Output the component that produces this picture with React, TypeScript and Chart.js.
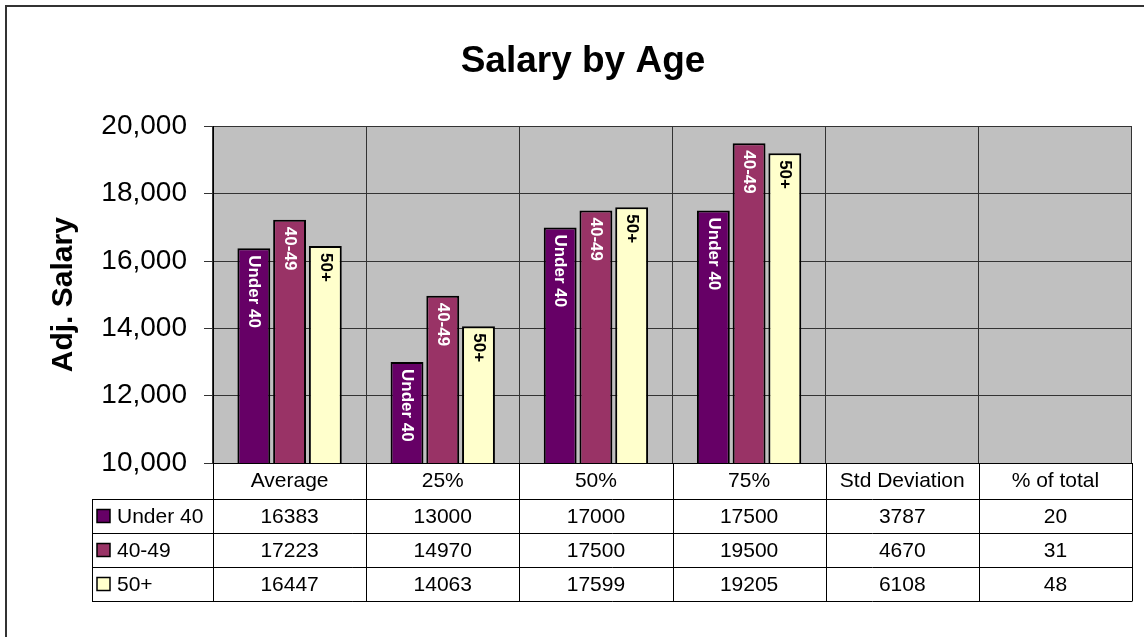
import { useEffect, useRef } from "react";
import { Chart, registerables } from "chart.js";

Chart.register(...registerables);

const categories = ["Average", "25%", "50%", "75%", "Std Deviation", "% of total"];
const seriesNames = ["Under 40", "40-49", "50+"];
const under40 = [16383, 13000, 17000, 17500, 3787, 20];
const age40to49 = [17223, 14970, 17500, 19500, 4670, 31];
const age50plus = [16447, 14063, 17599, 19205, 6108, 48];
const seriesValues = [under40, age40to49, age50plus];
const seriesColors = ["#660066", "#993366", "#FFFFCC"];
const labelColors = ["#FFFFFF", "#FFFFFF", "#000000"];
const yTickValues = [10000, 12000, 14000, 16000, 18000, 20000];

const FONT = "'Liberation Sans', Arial, sans-serif";
const Y_MIN = yTickValues[0];
const Y_MAX = yTickValues[yTickValues.length - 1];

const backgroundPlugin = {
  id: "bgPlot",
  beforeDraw(chart: any) {
    const { ctx, chartArea } = chart;
    ctx.save();
    ctx.fillStyle = "#C0C0C0";
    ctx.fillRect(chartArea.left, chartArea.top, chartArea.right - chartArea.left, chartArea.bottom - chartArea.top);
    ctx.strokeStyle = "#333333";
    ctx.lineWidth = 2;
    ctx.strokeRect(6, 6, 3000, 3000);
    ctx.restore();
  },
};

const barLabelPlugin = {
  id: "barLabels",
  afterDatasetsDraw(chart: any) {
    const { ctx } = chart;
    ctx.save();
    ctx.font = `bold 17px ${FONT}`;
    ctx.textAlign = "left";
    ctx.textBaseline = "middle";
    chart.data.datasets.forEach((ds: any, i: number) => {
      const meta = chart.getDatasetMeta(i);
      meta.data.forEach((bar: any, j: number) => {
        const v = ds.data[j];
        if (v <= Y_MIN) return;
        ctx.save();
        ctx.translate(bar.x, bar.y + 7);
        ctx.rotate(Math.PI / 2);
        ctx.fillStyle = labelColors[i];
        ctx.fillText(seriesNames[i], 0, 0);
        ctx.restore();
      });
    });
    ctx.restore();
  },
};

const dataTablePlugin = {
  id: "dataTable",
  afterDraw(chart: any) {
    const { ctx, chartArea } = chart;
    const n = categories.length;
    const colW = (chartArea.right - chartArea.left) / n;
    const top = chartArea.bottom;
    const headerB = top + 36;
    const rowH = 34;
    const tableB = headerB + rowH * seriesNames.length;
    const legendL = 92;
    const line = (x1: number, y1: number, x2: number, y2: number) => {
      ctx.beginPath();
      ctx.moveTo(x1, y1);
      ctx.lineTo(x2, y2);
      ctx.stroke();
    };
    ctx.save();
    ctx.strokeStyle = "#000000";
    ctx.lineWidth = 1;
    for (let i = 0; i <= n; i++) {
      const x = Math.round(chartArea.left + i * colW) + 0.5;
      line(x, top, x, tableB);
    }
    line(legendL + 0.5, headerB, legendL + 0.5, tableB);
    for (let r = 0; r <= seriesNames.length; r++) {
      const y = Math.round(headerB + r * rowH) + 0.5;
      line(legendL, y, Math.round(chartArea.right) + 0.5, y);
    }
    ctx.font = `21px ${FONT}`;
    ctx.fillStyle = "#000000";
    ctx.textBaseline = "middle";
    seriesNames.forEach((name, r) => {
      const cy = headerB + r * rowH + rowH / 2;
      ctx.fillStyle = seriesColors[r];
      ctx.fillRect(97, cy - 6.5, 13, 13);
      ctx.strokeStyle = "#000000";
      ctx.lineWidth = 1.5;
      ctx.strokeRect(97, cy - 6.5, 13, 13);
      ctx.fillStyle = "#000000";
      ctx.textAlign = "left";
      ctx.fillText(name, 117, cy + 1);
      ctx.textAlign = "center";
      seriesValues[r].forEach((v, c) => {
        const cx = chartArea.left + (c + 0.5) * colW;
        ctx.fillText(String(v), cx, cy + 1);
      });
    });
    ctx.restore();
  },
};

export default function App() {
  const canvasRef = useRef<HTMLCanvasElement | null>(null);

  useEffect(() => {
    if (!canvasRef.current) return;
    const chart = new Chart(canvasRef.current, {
      type: "bar",
      data: {
        labels: categories,
        datasets: seriesNames.map((name, i) => ({
          label: name,
          data: seriesValues[i],
          backgroundColor: seriesColors[i],
          borderColor: "#000000",
          borderWidth: 2,
          borderSkipped: false,
          categoryPercentage: 0.7,
          barPercentage: 0.92,
          clip: 0,
        })),
      },
      options: {
        responsive: false,
        animation: false,
        layout: { padding: { left: 34, right: 12, top: 0, bottom: 0 } },
        plugins: {
          legend: { display: false },
          tooltip: { enabled: false },
          title: {
            display: true,
            text: "Salary by Age",
            color: "#000000",
            font: { family: FONT, size: 37, weight: "bold", lineHeight: 1.2 },
            padding: { top: 40, bottom: 42 },
          },
        },
        scales: {
          x: {
            type: "category",
            grid: { color: "#333333", offset: true, drawTicks: false, lineWidth: 1 },
            border: { display: true, color: "#000000", width: 1 },
            ticks: {
              color: "#000000",
              font: { family: FONT, size: 21 },
              padding: 6,
              maxRotation: 0,
              autoSkip: false,
            },
            afterFit(scale: any) {
              scale.height = 174;
            },
          },
          y: {
            min: Y_MIN,
            max: Y_MAX,
            afterBuildTicks(scale: any) {
              scale.ticks = yTickValues.map((v) => ({ value: v }));
            },
            grid: { color: "#333333", tickColor: "#333333", tickLength: 9, drawTicks: true, lineWidth: 1 },
            border: { display: true, color: "#000000", width: 1 },
            ticks: {
              color: "#000000",
              font: { family: FONT, size: 28 },
              padding: 17,
              callback: (v: any) => Number(v).toLocaleString("en-US"),
            },
            title: {
              display: true,
              text: "Adj. Salary",
              color: "#000000",
              font: { family: FONT, size: 30, weight: "bold", lineHeight: 1.2 },
              padding: { top: 12, bottom: 0 },
            },
            afterFit(scale: any) {
              scale.width = 213 - 34;
            },
          },
        },
      },
      plugins: [backgroundPlugin, barLabelPlugin, dataTablePlugin],
    } as any);
    return () => chart.destroy();
  }, []);

  return (
    <div style={{ position: "fixed", left: 0, top: 0, width: 1144, height: 637, background: "#ffffff" }}>
      <canvas ref={canvasRef} width={1144} height={637} style={{ display: "block" }} />
    </div>
  );
}
